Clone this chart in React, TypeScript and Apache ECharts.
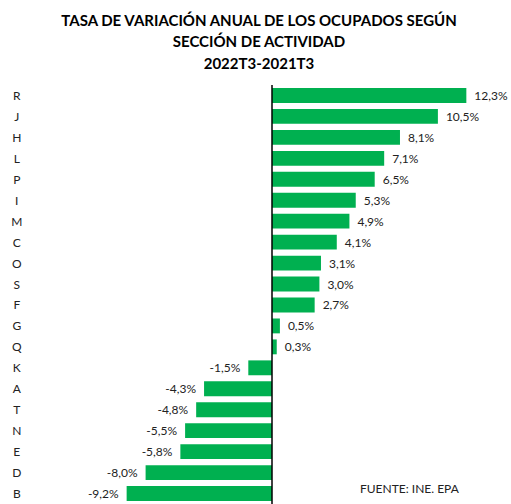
import React, { useEffect, useRef } from "react";
import * as echarts from "echarts";

const categories = ["R", "J", "H", "L", "P", "I", "M", "C", "O", "S", "F", "G", "Q", "K", "A", "T", "N", "E", "D", "B"];
const values = [12.3, 10.5, 8.1, 7.1, 6.5, 5.3, 4.9, 4.1, 3.1, 3.0, 2.7, 0.5, 0.3, -1.5, -4.3, -4.8, -5.5, -5.8, -8.0, -9.2];
const titleLines = ["TASA DE VARIACIÓN ANUAL DE LOS OCUPADOS SEGÚN", "SECCIÓN DE ACTIVIDAD", "2022T3-2021T3"];
const sourceText = "FUENTE: INE. EPA";

const FONT = "Lato, 'Open Sans', sans-serif";

export default function App() {
  const ref = useRef<HTMLDivElement>(null);
  useEffect(() => {
    if (!ref.current) return;
    const chart = echarts.init(ref.current, undefined, { renderer: "svg" });
    const fmt = (v: number) => v.toFixed(1).replace(".", ",") + "%";
    chart.setOption({
      animation: false,
      backgroundColor: "#ffffff",
      title: {
        text: titleLines.join("\n"),
        left: 254,
        textAlign: "center",
        top: 4,
        textStyle: { fontFamily: FONT, fontSize: 15, fontWeight: "bold", color: "#000", lineHeight: 21.5 },
      },
      grid: { top: 85, height: 421, left: 50.8, width: 442.4, containLabel: false },
      xAxis: {
        type: "value",
        min: -14,
        max: 14,
        show: false,
        splitLine: { show: false },
      },
      yAxis: {
        type: "category",
        data: categories,
        inverse: true,
        axisLine: { show: false },
        axisTick: { show: false },
        axisLabel: {
          align: "center",
          margin: 34,
          fontFamily: FONT,
          fontSize: 12,
          color: "#222",
        },
      },
      series: [
        {
          type: "bar",
          data: values.map((v) => ({
            value: v,
            label: { position: v >= 0 ? "right" : "left" },
          })),
          barCategoryGap: "29%",
          itemStyle: { color: "#00B050" },
          label: {
            show: true,
            distance: 8,
            fontFamily: FONT,
            fontSize: 12,
            color: "#222",
            formatter: (p: any) => fmt(p.value),
          },
          markLine: {
            silent: true,
            symbol: "none",
            label: { show: false },
            lineStyle: { color: "#000", width: 1.5, type: "solid" },
            data: [{ xAxis: 0 }],
          },
        },
      ],
      graphic: [
        {
          type: "text",
          left: 360,
          top: 482,
          style: { text: sourceText, fontFamily: FONT, fontSize: 12, fill: "#222" },
        },
      ],
    });
    return () => chart.dispose();
  }, []);
  return <div ref={ref} style={{ position: "absolute", left: 0, top: 0, width: 511, height: 504 }} />;
}
